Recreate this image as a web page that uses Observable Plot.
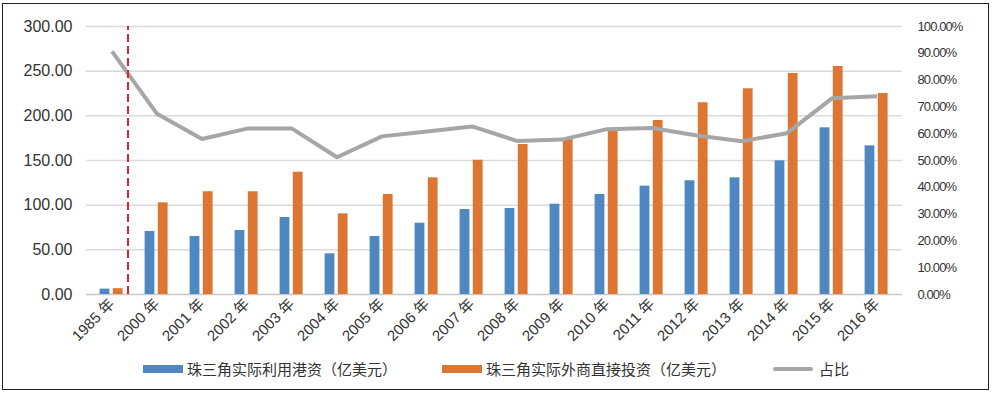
<!DOCTYPE html>
<html>
<head>
<meta charset="utf-8">
<script src="https://cdn.jsdelivr.net/npm/d3@7"></script>
<script src="https://cdn.jsdelivr.net/npm/@observablehq/plot@0.6"></script>
<style>
  html, body { margin: 0; padding: 0; background: #fff; }
  #wrap { position: relative; width: 993px; height: 396px; overflow: hidden;
          font-family: "Liberation Sans", Arial, "Noto Sans CJK SC", sans-serif; }
  #frame { position: absolute; left: 2px; top: 3px; width: 985px; height: 385px;
           border: 1.6px solid #231f20; pointer-events: none; }
  #chart { position: absolute; left: 0; top: 0; }
  .lg { position: absolute; top: 359px; height: 20px; font-size: 15px; color: #333;
        font-family: "Noto Sans CJK SC", sans-serif; line-height: 20px; white-space: nowrap; }
  .sw { position: absolute; }
</style>
</head>
<body>
<div id="wrap">
  <div id="chart"></div>
  <div id="legend"></div>
  <div id="frame"></div>
</div>
<script>
const years = ["1985 年","2000 年","2001 年","2002 年","2003 年","2004 年","2005 年","2006 年","2007 年","2008 年","2009 年","2010 年","2011 年","2012 年","2013 年","2014 年","2015 年","2016 年"];
const hkInvest = [6.0, 70.5, 64.9, 71.6, 86.2, 45.5, 64.9, 79.8, 95.1, 96.3, 101.1, 111.9, 121.3, 127.3, 130.6, 149.6, 186.6, 166.4];
const fdiTotal = [6.5, 102.6, 115.0, 115.0, 136.9, 90.3, 111.9, 130.6, 150.3, 167.9, 173.9, 182.8, 194.8, 214.6, 230.3, 247.4, 255.2, 225.0];
const share = [0.907, 0.674, 0.580, 0.619, 0.619, 0.512, 0.590, 0.608, 0.627, 0.573, 0.578, 0.617, 0.621, 0.593, 0.572, 0.602, 0.732, 0.740];
const leftTicks = [0, 50, 100, 150, 200, 250, 300];
const rightTicks = [0, 0.1, 0.2, 0.3, 0.4, 0.5, 0.6, 0.7, 0.8, 0.9, 1.0];
const seriesNames = ["珠三角实际利用港资（亿美元）", "珠三角实际外商直接投资（亿美元）", "占比"];
const colors = ["#4f87c0", "#dd7633", "#a6a6a6"];

const rows = years.map((y, i) => ({year: y, hk: hkInvest[i], fdi: fdiTotal[i], share: share[i]}));
const leftMax = 300;
const toLeft = p => p * leftMax; // right axis (0–100%) mapped onto left axis (0–300)

const chart = Plot.plot({
  width: 993,
  height: 345,
  marginLeft: 86,
  marginRight: 91,
  marginTop: 26,
  marginBottom: 51,
  style: {fontFamily: "'Liberation Sans', Arial, 'Noto Sans CJK SC', sans-serif", color: "#333", background: "transparent"},
  x: {type: "band", domain: years, padding: 0, label: null},
  y: {domain: [0, leftMax], label: null},
  marks: [
    Plot.gridY(leftTicks.slice(1), {stroke: "#dadada", strokeOpacity: 1, strokeWidth: 1.5}),
    Plot.ruleY([0], {stroke: "#c8c8c8", strokeWidth: 1.5}),
    Plot.barY(rows, {x: "year", y: "hk", fill: colors[0], insetLeft: 10.6, insetRight: 24.6}),
    Plot.barY(rows, {x: "year", y: "fdi", fill: colors[1], insetLeft: 23.8, insetRight: 11.4}),
    Plot.line(rows, {x: "year", y: d => toLeft(d.share), stroke: colors[2], strokeWidth: 4, strokeLinejoin: "round", strokeLinecap: "butt"}),
    Plot.ruleX([years[0]], {y1: 0, y2: leftMax, stroke: "#e0232b", strokeWidth: 2, strokeDasharray: "8,4", dx: 16}),
    Plot.axisY(leftTicks, {anchor: "left", tickSize: 0, tickPadding: 14, fontSize: 16, fill: "#333", tickFormat: d => d.toFixed(2)}),
    Plot.axisY(rightTicks.map(toLeft), {anchor: "right", tickSize: 0, tickPadding: 15, fontSize: 13, fill: "#333", tickFormat: d => (d / leftMax * 100).toFixed(2) + "%"}),
    Plot.axisX({anchor: "bottom", tickSize: 0, tickPadding: 7, tickRotate: -45, fontSize: 15, fill: "#333"})
  ]
});
document.getElementById("chart").appendChild(chart);

// condense the right-axis labels like the reference
const yLabelGroups = chart.querySelectorAll('g[aria-label="y-axis tick label"]');
if (yLabelGroups.length > 1) yLabelGroups[1].setAttribute("letter-spacing", "-0.9");

// legend (HTML, below the plotting area)
const legend = document.getElementById("legend");
const items = [
  {sx: 143, tx: 187, kind: "bar"},
  {sx: 442, tx: 486, kind: "bar"},
  {sx: 773, tx: 819, kind: "line"}
];
items.forEach((it, i) => {
  const sw = document.createElement("div");
  sw.className = "sw";
  sw.style.left = it.sx + "px";
  sw.style.width = "40px";
  if (it.kind === "bar") {
    sw.style.top = "365px"; sw.style.height = "8px"; sw.style.background = colors[i];
  } else {
    sw.style.top = "367px"; sw.style.height = "4px"; sw.style.background = colors[i]; sw.style.borderRadius = "2px";
  }
  legend.appendChild(sw);
  const t = document.createElement("div");
  t.className = "lg";
  t.style.left = it.tx + "px";
  t.textContent = seriesNames[i];
  legend.appendChild(t);
});
</script>
</body>
</html>
